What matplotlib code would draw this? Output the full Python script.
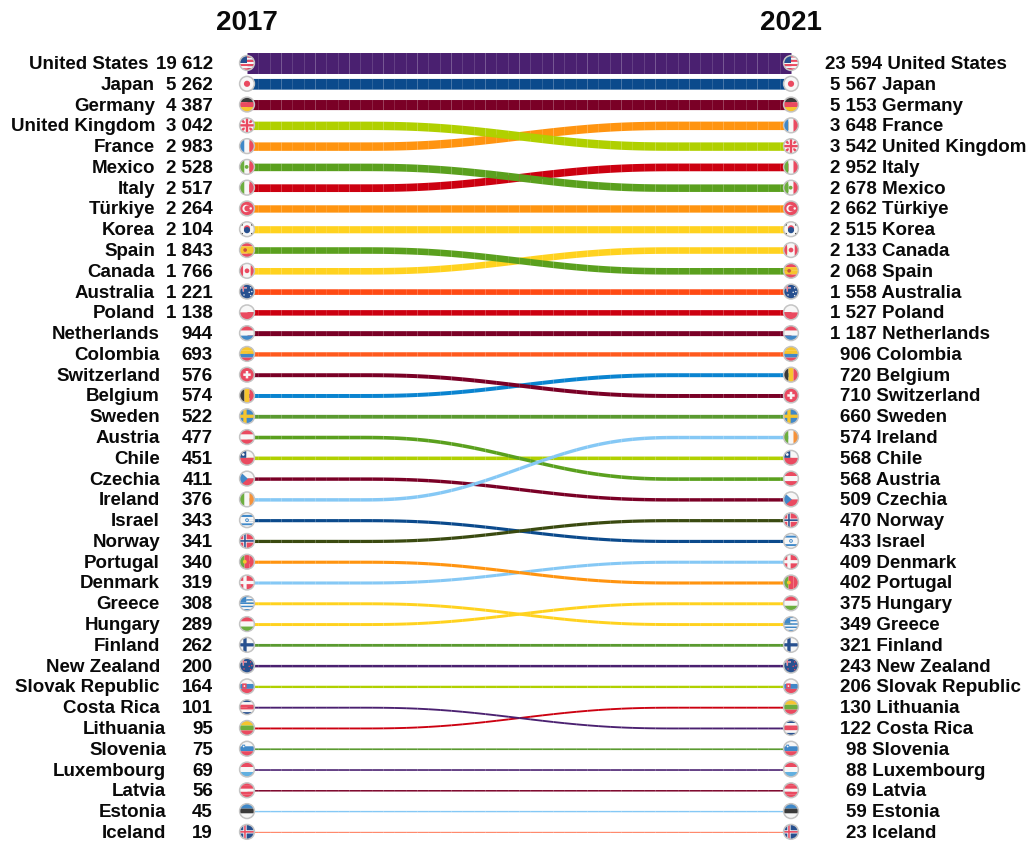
import numpy as np
import matplotlib
matplotlib.use('Agg')
import matplotlib.pyplot as plt
from matplotlib.patches import Ellipse, Polygon

names_2017 = ['United States', 'Japan', 'Germany', 'United Kingdom', 'France', 'Mexico', 'Italy', 'Türkiye',
              'Korea', 'Spain', 'Canada', 'Australia', 'Poland', 'Netherlands', 'Colombia', 'Switzerland',
              'Belgium', 'Sweden', 'Austria', 'Chile', 'Czechia', 'Ireland', 'Israel', 'Norway', 'Portugal',
              'Denmark', 'Greece', 'Hungary', 'Finland', 'New Zealand', 'Slovak Republic', 'Costa Rica',
              'Lithuania', 'Slovenia', 'Luxembourg', 'Latvia', 'Estonia', 'Iceland']
values_2017 = [19612, 5262, 4387, 3042, 2983, 2528, 2517, 2264, 2104, 1843, 1766, 1221, 1138, 944, 693, 576,
               574, 522, 477, 451, 411, 376, 343, 341, 340, 319, 308, 289, 262, 200, 164, 101, 95, 75, 69,
               56, 45, 19]
names_2021 = ['United States', 'Japan', 'Germany', 'France', 'United Kingdom', 'Italy', 'Mexico', 'Türkiye',
              'Korea', 'Canada', 'Spain', 'Australia', 'Poland', 'Netherlands', 'Colombia', 'Belgium',
              'Switzerland', 'Sweden', 'Ireland', 'Chile', 'Austria', 'Czechia', 'Norway', 'Israel', 'Denmark',
              'Portugal', 'Hungary', 'Greece', 'Finland', 'New Zealand', 'Slovak Republic', 'Lithuania',
              'Costa Rica', 'Slovenia', 'Luxembourg', 'Latvia', 'Estonia', 'Iceland']
values_2021 = [23594, 5567, 5153, 3648, 3542, 2952, 2678, 2662, 2515, 2133, 2068, 1558, 1527, 1187, 906, 720,
               710, 660, 574, 568, 568, 509, 470, 433, 409, 402, 375, 349, 321, 243, 206, 130, 122, 98, 88,
               69, 59, 23]

PURPLE, NAVY, WINE = '#4a2070', '#0b4a8c', '#7a0026'
LIME, ORANGE, GREEN = '#b0d000', '#ff9410', '#5aa01e'
RED, GOLD, SKY = '#cc0010', '#ffd21f', '#85c8f5'
band_colors = {
    'United States': PURPLE, 'Japan': NAVY, 'Germany': WINE, 'United Kingdom': LIME, 'France': ORANGE,
    'Mexico': GREEN, 'Italy': RED, 'Türkiye': ORANGE, 'Korea': GOLD, 'Spain': GREEN, 'Canada': GOLD,
    'Australia': '#ff4a14', 'Poland': RED, 'Netherlands': WINE, 'Colombia': '#ff5a1e', 'Switzerland': WINE,
    'Belgium': '#0a84d0', 'Sweden': '#5a9a30', 'Austria': GREEN, 'Chile': LIME, 'Czechia': WINE,
    'Ireland': SKY, 'Israel': NAVY, 'Norway': '#3a4a10', 'Portugal': ORANGE, 'Denmark': SKY, 'Greece': GOLD,
    'Hungary': GOLD, 'Finland': '#5a9a30', 'New Zealand': PURPLE, 'Slovak Republic': LIME,
    'Costa Rica': PURPLE, 'Lithuania': RED, 'Slovenia': '#5a9a30', 'Luxembourg': PURPLE, 'Latvia': WINE,
    'Estonia': SKY, 'Iceland': '#ff7a5a',
}
top_bands = ['Norway', 'Ireland']

# flat flag colours
R, W, B, G, Y, K, DB = '#ea4a60', '#f7f7f7', '#4088c8', '#6cae3e', '#f6c52e', '#3a3a3a', '#27508f'
stripes = {
    'United States': ('h', [R, W] * 3 + [R]), 'Japan': ('h', [W]), 'Germany': ('h', [K, R, Y]),
    'United Kingdom': ('h', [DB]), 'France': ('v', [B, W, R]), 'Mexico': ('v', [G, W, R]),
    'Italy': ('v', [G, W, R]), 'Türkiye': ('h', [R]), 'Korea': ('h', [W]), 'Spain': ('h', [R, Y, Y, R]),
    'Canada': ('v', [R, W, W, R]), 'Australia': ('h', [DB]), 'Poland': ('h', [W, R]),
    'Netherlands': ('h', [R, W, B]), 'Colombia': ('h', [Y, Y, B, R]), 'Switzerland': ('h', [R]),
    'Belgium': ('v', [K, Y, R]), 'Sweden': ('h', [B]), 'Austria': ('h', [R, W, R]), 'Chile': ('h', [W, R]),
    'Czechia': ('h', [W, R]), 'Ireland': ('v', [G, W, '#f5923a']), 'Israel': ('h', [W, B, W, W, W, B, W]),
    'Norway': ('h', [R]), 'Portugal': ('v', [G, R, R]), 'Denmark': ('h', [R]),
    'Greece': ('h', [B, W] * 4 + [B]), 'Hungary': ('h', [R, W, G]), 'Finland': ('h', [W]),
    'New Zealand': ('h', [DB]), 'Slovak Republic': ('h', [W, B, R]),
    'Costa Rica': ('h', [DB, W, R, R, W, DB]), 'Lithuania': ('h', [Y, G, R]), 'Slovenia': ('h', [W, B, R]),
    'Luxembourg': ('h', [R, W, '#62b0e0']), 'Latvia': ('h', [R, R, W, R, R]), 'Estonia': ('h', [B, K, W]),
    'Iceland': ('h', [DB]),
}
crosses = {
    'Sweden': (Y, None), 'Norway': (W, DB), 'Denmark': (W, None), 'Finland': (DB, None), 'Iceland': (W, R),
}

W_PX, H_PX = 1032, 843
X0_PX, X1_PX = 247, 791
ROW0_PX, ROW_PX = 63, 20.78
YEAR_PX = (X1_PX - X0_PX) / 4
FLAG_R = 7.4
WIDTH_SCALE = 0.14  # px of band per sqrt(value)

fig = plt.figure(figsize=(W_PX / 100, H_PX / 100), dpi=100)
ax = fig.add_axes([0, 0, 1, 1])
ax.set_xlim(2017 - X0_PX / YEAR_PX, 2021 + (W_PX - X1_PX) / YEAR_PX)
ax.set_ylim((H_PX - ROW0_PX) / ROW_PX, -ROW0_PX / ROW_PX)
ax.axis('off')
plt.rcParams['font.family'] = ['Liberation Sans', 'DejaVu Sans']


def fmt(v):
    return f'{v:,}'.replace(',', ' ')


def band(name):
    r0, r1 = names_2017.index(name), names_2021.index(name)
    mean = (values_2017[r0] + values_2021[r1]) / 2
    h = (WIDTH_SCALE * np.sqrt(mean) + 0.4) / ROW_PX / 2
    edges = np.linspace(2017, 2021, 49)
    for a, b in zip(edges[:-1], edges[1:]):
        x = np.linspace(a, b, 5)
        s = (x - 2017) / 4
        t = np.clip((s - 0.2) / 0.6, 0, 1)
        t = t ** 3 * (10 - 15 * t + 6 * t ** 2)
        y = r0 + (r1 - r0) * t
        piece = ax.fill_between(x, y - h, y + h, color=band_colors[name], lw=0, zorder=2)
        piece.set_snap(False)


def flag(name, year, row):
    rx, ry = FLAG_R / YEAR_PX, FLAG_R / ROW_PX
    clip = Ellipse((year, row), 2 * rx, 2 * ry, transform=ax.transData)

    def poly(pts, color, z=3.2):
        xy = [(year + u * rx, row - v * ry) for u, v in pts]
        ax.add_patch(Polygon(xy, fc=color, lw=0, zorder=z, clip_path=clip, snap=False))

    def box(u0, v0, u1, v1, color, z=3.2):
        poly([(u0, v0), (u1, v0), (u1, v1), (u0, v1)], color, z)

    def dot(u, v, r, color, z=3.4):
        t = np.linspace(0, 2 * np.pi, 24)
        poly(np.c_[u + r * np.cos(t), v + r * np.sin(t)], color, z)

    kind, cols = stripes[name]
    n = len(cols)
    for i, c in enumerate(cols):
        if kind == 'h':
            box(-1, 1 - 2 * i / n, 1, 1 - 2 * (i + 1) / n, c, 3)
        else:
            box(-1 + 2 * i / n, -1, -1 + 2 * (i + 1) / n, 1, c, 3)

    if name in crosses:
        c1, c2 = crosses[name]
        box(-0.5, -1, -0.05, 1, c1)
        box(-1, -0.22, 1, 0.22, c1)
        if c2:
            box(-0.38, -1, -0.17, 1, c2, 3.3)
            box(-1, -0.11, 1, 0.11, c2, 3.3)
    elif name == 'United States':
        box(-1, 0, 0, 1, DB)
    elif name == 'Japan':
        dot(0, 0, 0.42, R)
    elif name in ('Mexico', 'Portugal'):
        dot(-0.05 if name == 'Mexico' else -0.3, 0, 0.26, G if name == 'Mexico' else Y)
    elif name == 'United Kingdom':
        for a, b, wd, c in [(1, 1, 0.3, W), (1, -1, 0.3, W), (1, 1, 0.12, R), (1, -1, 0.12, R)]:
            poly([(-a - wd, -b + wd), (-a + wd, -b - wd), (a + wd, b - wd), (a - wd, b + wd)]
                 if a == b else [(-a - wd, -b - wd), (-a + wd, -b + wd), (a + wd, b + wd), (a - wd, b - wd)],
                 c, 3.2 if c == W else 3.3)
        box(-0.3, -1, 0.3, 1, W, 3.4)
        box(-1, -0.3, 1, 0.3, W, 3.4)
        box(-0.16, -1, 0.16, 1, R, 3.5)
        box(-1, -0.16, 1, 0.16, R, 3.5)
    elif name == 'Türkiye':
        dot(-0.12, 0, 0.5, W)
        dot(0.05, 0, 0.4, R, 3.5)
        dot(0.5, 0, 0.17, W, 3.6)
    elif name == 'Korea':
        dot(0, 0.12, 0.42, R)
        dot(0, -0.12, 0.42, DB, 3.5)
        for sx in (-1, 1):
            for sy in (-1, 1):
                box(sx * 0.55, sy * 0.5, sx * 0.8, sy * 0.75, K)
    elif name == 'Spain':
        dot(-0.25, 0, 0.25, '#c8503c')
    elif name == 'Canada':
        dot(0, 0, 0.32, R)
    elif name == 'Switzerland':
        box(-0.5, -0.17, 0.5, 0.17, W)
        box(-0.17, -0.5, 0.17, 0.5, W)
    elif name == 'Chile':
        box(-1, 0, -0.1, 1, DB, 3.3)
        dot(-0.5, 0.45, 0.18, W)
    elif name == 'Czechia':
        poly([(-1, 1), (0.1, 0), (-1, -1)], B)
    elif name == 'Israel':
        dot(0, 0, 0.25, B)
        dot(0, 0, 0.12, W, 3.5)
    elif name == 'Greece':
        box(-1, 0.1, -0.1, 1, B, 3.3)
        box(-0.7, 0.42, -0.4, 1, W)
        box(-1, 0.45, -0.1, 0.65, W)
    elif name == 'Australia' or name == 'New Zealand':
        box(-1, 0, 0, 1, DB)
        box(-0.6, 0, -0.4, 1, W, 3.3)
        box(-1, 0.42, 0, 0.58, W, 3.3)
        box(-0.55, 0, -0.45, 1, R, 3.4)
        box(-1, 0.46, 0, 0.54, R, 3.4)
        star = W if name == 'Australia' else R
        for u, v in [(0.5, 0.5), (0.65, 0), (0.3, -0.1), (0.5, -0.55), (-0.4, -0.45)]:
            dot(u, v, 0.1, star)
    elif name in ('Slovak Republic', 'Slovenia'):
        big = name == 'Slovak Republic'
        box(-0.65, -0.3 if big else 0.1, -0.05 if big else -0.25, 0.4 if big else 0.55,
            R if big else B)
        dot(-0.35 if big else -0.45, 0.05 if big else 0.3, 0.12, W)

    ax.add_patch(Ellipse((year, row), 2 * rx, 2 * ry, fc='none', ec='#c4c4c4', lw=1.1, zorder=4))


order = [n for n in reversed(names_2017) if n not in top_bands] + top_bands
for name in order:
    band(name)

for i, name in enumerate(names_2017):
    flag(name, 2017, i)
for i, name in enumerate(names_2021):
    flag(name, 2021, i)

FS = 13.5
text_kw = dict(fontsize=FS, fontweight='bold', color='#0a0a0a', va='center', textcoords='offset pixels',
               annotation_clip=False)
name_end = {5: -98, 4: -92, 3: -87, 2: -81}
start = {5: 578, 4: 583, 3: 593, 2: 599}
for i, (name, v) in enumerate(zip(names_2017, values_2017)):
    ax.annotate(fmt(v), (2017, i), xytext=(-34, -1.5), ha='right', **text_kw)
    ax.annotate(name, (2017, i), xytext=(name_end[len(str(v))], -1.5), ha='right', **text_kw)
for i, (name, v) in enumerate(zip(names_2021, values_2021)):
    ax.annotate(f'{fmt(v)} {name}', (2017, i), xytext=(start[len(str(v))], -1.5), ha='left', **text_kw)

for year in (2017, 2021):
    ax.annotate(str(year), (year, 0), xytext=(0, 40), ha='center', va='center', fontsize=20,
                fontweight='bold', color='#0a0a0a', textcoords='offset pixels', annotation_clip=False)

fig.savefig('out.png', dpi=100, facecolor='white')
